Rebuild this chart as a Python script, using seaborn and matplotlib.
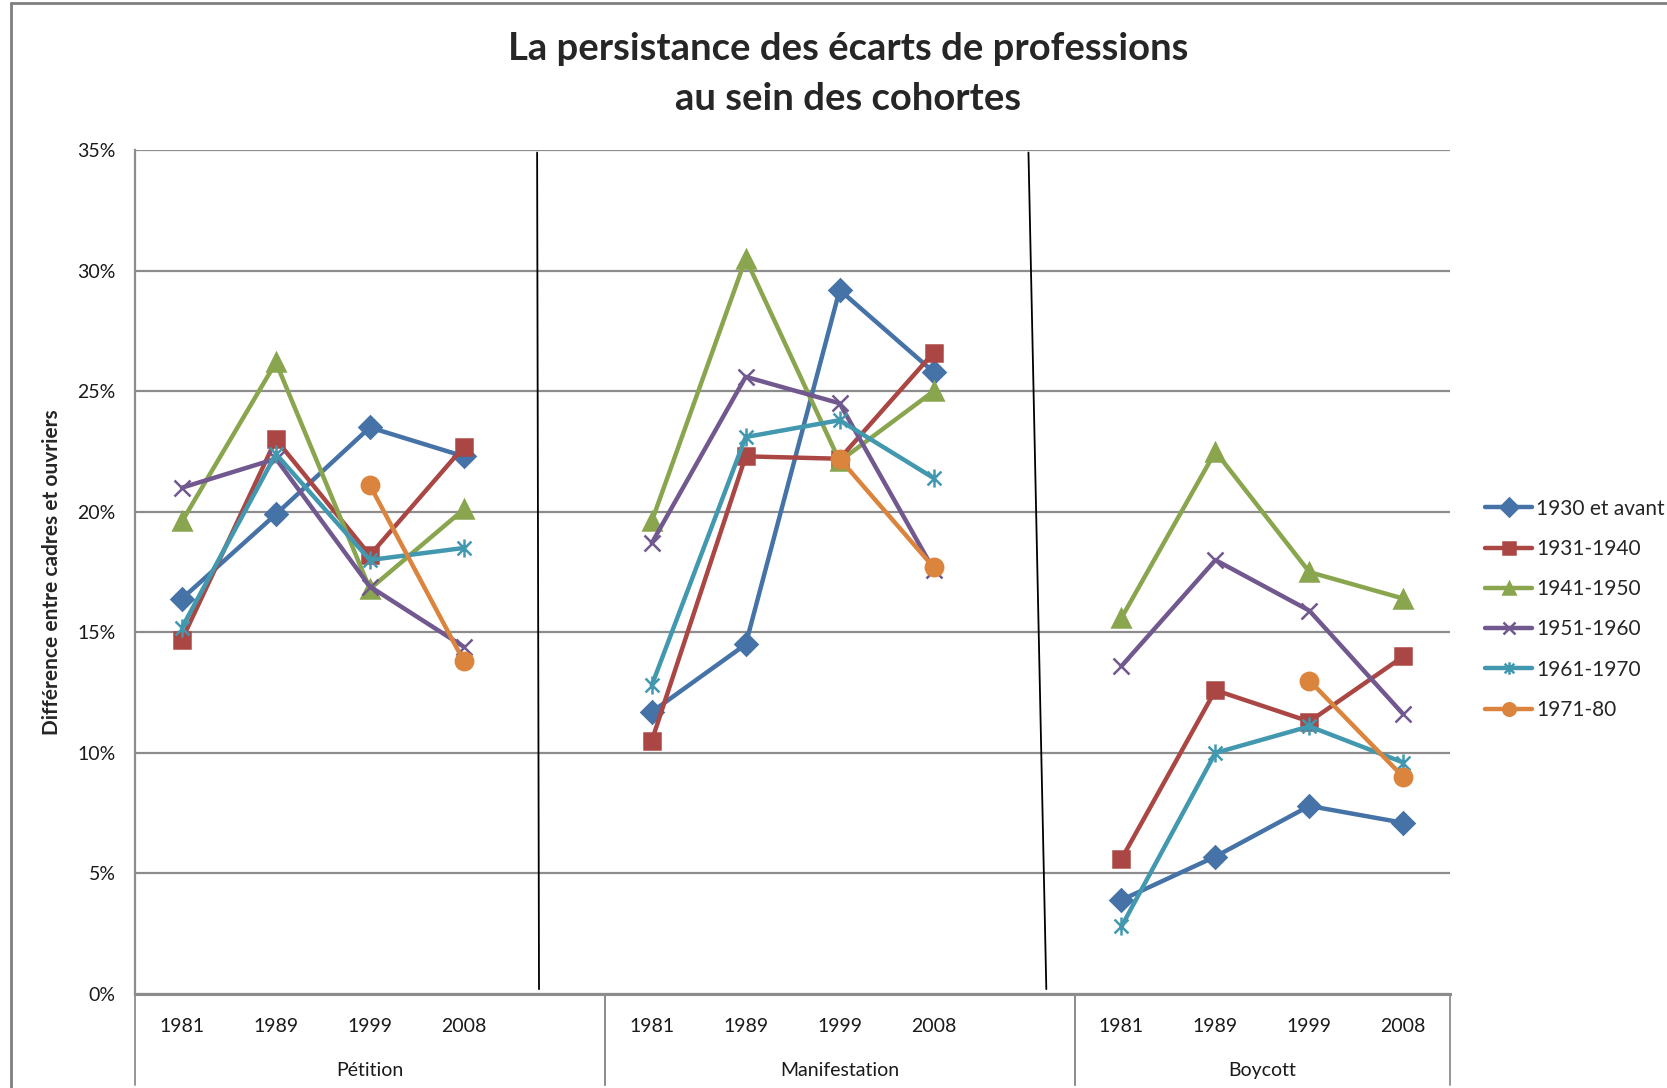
import numpy as np
import pandas as pd
import matplotlib
matplotlib.use("Agg")
import matplotlib.pyplot as plt
import matplotlib.transforms as mtransforms
from matplotlib.lines import Line2D
from matplotlib.path import Path
import seaborn as sns

# ───── Data (percent) ─────────────────────────────────────────────
years = ["1981", "1989", "1999", "2008"]
actions = ["Pétition", "Manifestation", "Boycott"]
cohorts = ["1930 et avant", "1931-1940", "1941-1950", "1951-1960", "1961-1970", "1971-80"]

# each list: Pétition 1981-2008, Manifestation 1981-2008, Boycott 1981-2008
v_1930 = [16.4, 19.9, 23.5, 22.3, 11.7, 14.5, 29.2, 25.8, 3.9, 5.7, 7.8, 7.1]
v_1931 = [14.7, 23.0, 18.2, 22.7, 10.5, 22.3, 22.2, 26.6, 5.6, 12.6, 11.3, 14.0]
v_1941 = [19.6, 26.2, 16.8, 20.1, 19.6, 30.5, 22.1, 25.0, 15.6, 22.5, 17.5, 16.4]
v_1951 = [21.0, 22.2, 16.9, 14.4, 18.7, 25.6, 24.5, 17.6, 13.6, 18.0, 15.9, 11.6]
v_1961 = [15.2, 22.4, 18.0, 18.5, 12.8, 23.1, 23.8, 21.4, 2.8, 10.0, 11.1, 9.6]
v_1971 = [np.nan, np.nan, 21.1, 13.8, np.nan, np.nan, 22.2, 17.7, np.nan, np.nan, 13.0, 9.0]
values = [v_1930, v_1931, v_1941, v_1951, v_1961, v_1971]

colors = ["#4572A7", "#AA4643", "#89A54E", "#71588F", "#4198AF", "#DB843D"]

# Excel-like asterisk: an x plus a vertical bar
star = Path([(-1, -1), (1, 1), (-1, 1), (1, -1), (0, -1.3), (0, 1.3)],
            [Path.MOVETO, Path.LINETO, Path.MOVETO, Path.LINETO, Path.MOVETO, Path.LINETO])
markers = ["D", "s", "^", "x", star, "o"]
msizes = [11, 12, 13, 12, 13, 12.5]

slots_per_group = len(years) + 1   # one empty slot between groups

# long table, one unit per cohort x action so the groups are not joined
rows = []
for c, vals in zip(cohorts, values):
    for g, a in enumerate(actions):
        for k, y in enumerate(years):
            v = vals[g * len(years) + k]
            if not np.isnan(v):
                rows.append({"cohort": c, "action": a, "year": y,
                             "pos": g * slots_per_group + k, "value": v,
                             "unit": c + "|" + a})
df = pd.DataFrame(rows)

# ───── Figure ─────────────────────────────────────────────────────
sns.set_style("white")
plt.rcParams["font.family"] = ["Lato", "DejaVu Sans"]

fig = plt.figure(figsize=(16.67, 10.88), dpi=100)
ax = fig.add_axes([0.081, 0.0864, 0.789, 0.7756])

for c, col, m, ms in zip(cohorts, colors, markers, msizes):
    sns.lineplot(data=df[df["cohort"] == c], x="pos", y="value", units="unit",
                 estimator=None, color=col, marker=m, markersize=ms, lw=3.2,
                 markeredgecolor=col, markeredgewidth=1.8, legend=False, ax=ax)

for ln in ax.lines:
    ln.set_solid_joinstyle("round")

n_slots = len(actions) * slots_per_group - 1
ax.set_xlim(-0.5, n_slots - 0.5)
ax.set_ylim(0, 35)
ax.set_yticks(np.arange(0, 36, 5))
ax.set_yticklabels([f"{t}%" for t in range(0, 36, 5)])
xt_labels = []
for g in range(len(actions)):
    xt_labels += years + ([""] if g < len(actions) - 1 else [])
ax.set_xticks(range(n_slots))
ax.set_xticklabels(xt_labels)
ax.tick_params(axis="x", length=0, pad=17, labelsize=14, colors="#1a1a1a")
ax.tick_params(axis="y", length=0, pad=14, labelsize=14, colors="#1a1a1a")
ax.set_xlabel("")
ax.set_ylabel("Différence entre cadres et ouvriers", fontsize=15,
              fontweight="bold", labelpad=11)

ax.yaxis.grid(True, color="#8c8c8c", lw=1.6)
ax.set_axisbelow(True)
for s in ["top", "right"]:
    ax.spines[s].set_visible(False)
for s in ["left", "bottom"]:
    ax.spines[s].set_color("#8c8c8c")
ax.spines["left"].set_linewidth(1.6)
ax.spines["bottom"].set_linewidth(2.2)

# group labels and separators under the axis
trans = mtransforms.blended_transform_factory(ax.transData, ax.transAxes)
for g, a in enumerate(actions):
    start = g * slots_per_group - 0.5
    end = min(start + slots_per_group, n_slots - 0.5)
    ax.text((start + end) / 2, -0.091, a,
            transform=trans, ha="center", va="center", fontsize=14, color="#1a1a1a")
    for xb in (start, end):
        ax.plot([xb, xb], [0, -0.108], transform=trans, color="#8c8c8c",
                lw=1.3, clip_on=False)

# hand-drawn black dividers between the groups
for gap, (d0, d1) in zip([4, 9], [(-0.22, -0.20), (0.01, 0.20)]):
    ax.plot([gap + d0, gap + d1], [34.9, 0.2], color="black", lw=1.3)

# title
fig.text(0.509, 0.955, "La persistance des écarts de professions",
         ha="center", va="center", fontsize=27.5, fontweight="bold")
fig.text(0.509, 0.909, "au sein des cohortes",
         ha="center", va="center", fontsize=27.5, fontweight="bold")

# legend
handles = [Line2D([0], [0], color=c, lw=3.2, marker=m, markersize=9,
                  markeredgecolor=c, markeredgewidth=1.8)
           for c, m in zip(colors, markers)]
fig.legend(handles, cohorts, loc="center left", bbox_to_anchor=(0.891, 0.440),
           frameon=False, fontsize=15, handlelength=2.25, handletextpad=0.2,
           labelspacing=0.97, borderpad=0, borderaxespad=0)

# outer frame (top and left edges visible)
fig.add_artist(Line2D([0.0066, 1], [0.997, 0.997], color="#7f7f7f", lw=2,
                      transform=fig.transFigure))
fig.add_artist(Line2D([0.0066, 0.0066], [0, 0.997], color="#7f7f7f", lw=2,
                      transform=fig.transFigure))

fig.savefig("out.png", dpi=100)
